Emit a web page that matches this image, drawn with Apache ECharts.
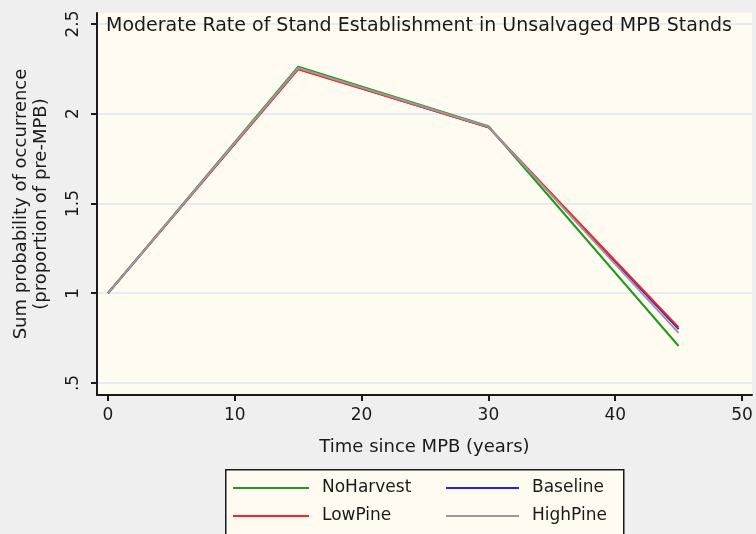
<!DOCTYPE html>
<html>
<head>
<meta charset="utf-8">
<script src="https://cdn.jsdelivr.net/npm/echarts@6/dist/echarts.min.js"></script>
<style>
html,body{margin:0;padding:0;background:#efefef;}
#chart{width:756px;height:534px;}
</style>
</head>
<body>
<div id="chart"></div>
<script>
// ---- data ----
const years = [0, 15, 30, 45];
const noHarvest = [1, 2.262, 1.93, 0.706];
const baseline = [1, 2.25, 1.925, 0.80];
const lowPine = [1, 2.248, 1.925, 0.81];
const highPine = [1, 2.255, 1.927, 0.779];
const seriesNames = ['NoHarvest', 'Baseline', 'LowPine', 'HighPine'];
const xTicks = [0, 10, 20, 30, 40, 50];
const yTicks = [0.5, 1, 1.5, 2, 2.5];
const yTickLabels = ['.5', '1', '1.5', '2', '2.5'];

const FONT = 'DejaVu Sans';
const colors = ['#1f9a1f', '#1f1fff', '#ff2222', '#9a9a9a'];
const seriesData = [noHarvest, baseline, lowPine, highPine];

const chart = echarts.init(document.getElementById('chart'));
chart.setOption({
  backgroundColor: '#efefef',
  animation: false,
  title: {
    text: 'Moderate Rate of Stand Establishment in Unsalvaged MPB Stands',
    left: 106, top: 17, padding: 0,
    textStyle: {fontFamily: FONT, fontSize: 19, fontWeight: 'normal', color: '#1a1a1a'}
  },
  grid: {
    left: 97, right: 4, top: 13, bottom: 139,
    outerBoundsMode: 'none', containLabel: false,
    show: true, backgroundColor: '#fffbf0', borderWidth: 0
  },
  graphic: [{
    type: 'rect', left: 225, top: 469, z: 0,
    shape: {width: 398, height: 66},
    style: {fill: '#fffbf0', stroke: '#1a1a1a', lineWidth: 1.5}
  }],
  legend: [{
    data: ['NoHarvest', 'LowPine'],
    orient: 'vertical', left: 233, top: 478, padding: 0,
    icon: 'rect', itemWidth: 76, itemHeight: 2, itemGap: 8,
    textStyle: {fontFamily: FONT, fontSize: 17, color: '#1a1a1a', lineHeight: 20, padding: [0, 0, 0, 8]}
  }, {
    data: ['Baseline', 'HighPine'],
    orient: 'vertical', left: 446, top: 478, padding: 0,
    icon: 'rect', itemWidth: 73, itemHeight: 2, itemGap: 8,
    textStyle: {fontFamily: FONT, fontSize: 17, color: '#1a1a1a', lineHeight: 20, padding: [0, 0, 0, 8]}
  }],
  xAxis: {
    type: 'value', min: -0.87, max: 50.79,
    name: 'Time since MPB (years)', nameLocation: 'middle', nameGap: 43,
    nameTextStyle: {fontFamily: FONT, fontSize: 18, color: '#1a1a1a'},
    axisLine: {onZero: false, lineStyle: {color: '#1a1a1a', width: 2}},
    axisTick: {customValues: xTicks, length: 6, lineStyle: {color: '#1a1a1a', width: 2}},
    axisLabel: {customValues: xTicks, margin: 12, fontFamily: FONT, fontSize: 17, color: '#1a1a1a'},
    splitLine: {show: false}
  },
  yAxis: {
    type: 'value', min: 0.433, max: 2.561,
    name: 'Sum probability of occurrence\n(proportion of pre-MPB)', nameLocation: 'middle', nameGap: 46,
    nameTextStyle: {fontFamily: FONT, fontSize: 18, color: '#1a1a1a', lineHeight: 20},
    axisLine: {onZero: false, lineStyle: {color: '#1a1a1a', width: 2}},
    axisTick: {customValues: yTicks, length: 6, lineStyle: {color: '#1a1a1a', width: 2}},
    axisLabel: {
      customValues: yTicks, rotate: 90, margin: 15, fontFamily: FONT, fontSize: 17, color: '#1a1a1a',
      formatter: v => { const i = yTicks.findIndex(t => Math.abs(t - v) < 1e-9); return i >= 0 ? yTickLabels[i] : ''; }
    },
    splitLine: {show: true, lineStyle: {color: '#e3ecef', width: 2}}
  },
  series: seriesNames.map((n, i) => ({
    name: n, type: 'line', showSymbol: false, symbol: 'none',
    data: years.map((x, j) => [x, seriesData[i][j]]),
    lineStyle: {color: colors[i], width: 2},
    itemStyle: {color: colors[i]}
  }))
});
</script>
</body>
</html>
